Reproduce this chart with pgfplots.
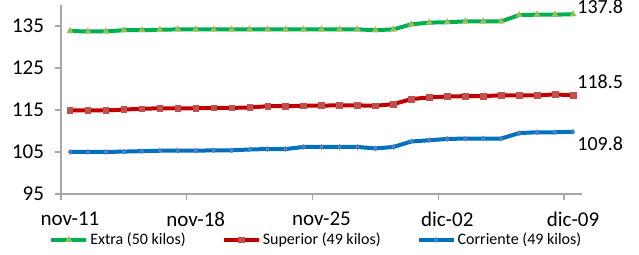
\documentclass[border=0pt]{standalone}
\usepackage{fontspec}
\setmainfont{Carlito}
\usepackage{pgfplots}
\pgfplotsset{compat=1.18}
\definecolor{gline}{HTML}{00B050}
\definecolor{gmark}{HTML}{9BBB59}
\definecolor{rline}{HTML}{C00000}
\definecolor{rmark}{HTML}{C0504D}
\definecolor{bline}{HTML}{0070C0}
\definecolor{bmark}{HTML}{4F81BD}
\definecolor{axgray}{HTML}{A6A6A6}
\begin{document}
\begin{tikzpicture}
\useasboundingbox (0,0) rectangle (319.5pt,127.5pt);
\begin{axis}[
  at={(30.5pt,30.5pt)}, anchor=south west,
  scale only axis, width=260.5pt, height=94.5pt,
  xmin=-0.5, xmax=28.5, ymin=95, ymax=140,
  ytick={95,105,115,125,135},
  xtick={-0.5,6.5,13.5,20.5,27.5}, xticklabels={},
  extra x ticks={0,7,14,21,28},
  extra x tick labels={nov-11,nov-18,nov-25,dic-02,dic-09},
  extra x tick style={major tick length=0pt, xticklabel style={yshift=-5.5pt}},
  axis x line*=bottom, axis y line*=left,
  axis line style={axgray, line width=0.6pt},
  every tick/.style={axgray, line width=0.6pt},
  tick align=outside, major tick length=3pt,
  yticklabel style={xshift=-2pt},
  /pgf/number format/assume math mode=true,
  tick label style={font=\fontsize{10.5}{12}\selectfont, text=black},
  legend style={at={(0.49,-0.243)}, anchor=center, draw=none, fill=none,
    font=\fontsize{8}{9}\selectfont, legend columns=3,
    /tikz/every even column/.append style={column sep=17pt},
    nodes={inner sep=1pt}},
  legend image code/.code={%
    \draw[mark repeat=2,mark phase=2,#1] plot coordinates {(0pt,0pt)(8.75pt,0pt)(17.5pt,0pt)};},
  clip=false,
]
\addplot[gline, line width=2pt, mark=triangle*, mark size=1.7pt,
  mark options={fill=gmark, draw=gmark, line width=0.3pt}] coordinates {
(0,133.8)(1,133.7)(2,133.7)(3,134.0)(4,134.0)(5,134.1)(6,134.2)(7,134.2)(8,134.2)(9,134.2)
(10,134.2)(11,134.2)(12,134.2)(13,134.2)(14,134.2)(15,134.2)(16,134.2)(17,134.0)(18,134.2)
(19,135.4)(20,135.8)(21,135.9)(22,136.1)(23,136.1)(24,136.1)(25,137.6)(26,137.7)(27,137.7)(28,137.8)};
\addlegendentry{Extra (50 kilos)}
\addplot[rline, line width=2pt, mark=square*, mark size=1.4pt,
  mark options={fill=rmark, draw=rmark, line width=0.3pt}] coordinates {
(0,114.9)(1,114.9)(2,114.9)(3,115.1)(4,115.3)(5,115.4)(6,115.4)(7,115.4)(8,115.5)(9,115.5)
(10,115.6)(11,115.9)(12,115.9)(13,116.0)(14,116.05)(15,116.1)(16,116.1)(17,116.0)(18,116.4)
(19,117.6)(20,118.0)(21,118.2)(22,118.3)(23,118.3)(24,118.5)(25,118.5)(26,118.5)(27,118.7)(28,118.5)};
\addlegendentry{Superior (49 kilos)}
\addplot[bline, line width=2pt, mark=diamond*, mark size=1.2pt,
  mark options={fill=bmark, draw=bmark, line width=0.3pt}] coordinates {
(0,105.0)(1,105.0)(2,105.0)(3,105.1)(4,105.2)(5,105.3)(6,105.3)(7,105.3)(8,105.4)(9,105.4)
(10,105.6)(11,105.7)(12,105.7)(13,106.2)(14,106.2)(15,106.2)(16,106.2)(17,105.85)(18,106.2)
(19,107.5)(20,107.8)(21,108.1)(22,108.2)(23,108.2)(24,108.2)(25,109.5)(26,109.7)(27,109.7)(28,109.8)};
\addlegendentry{Corriente (49 kilos)}
\node[anchor=west, font=\fontsize{10}{12}\selectfont, inner sep=0pt] at (axis cs:28,137.8) [xshift=2pt, yshift=3.5pt] {137.8};
\node[anchor=west, font=\fontsize{10}{12}\selectfont, inner sep=0pt] at (axis cs:28,118.5) [xshift=2pt, yshift=7pt] {118.5};
\node[anchor=west, font=\fontsize{10}{12}\selectfont, inner sep=0pt] at (axis cs:28,109.8) [xshift=2pt, yshift=-6pt] {109.8};
\end{axis}
\end{tikzpicture}
\end{document}
